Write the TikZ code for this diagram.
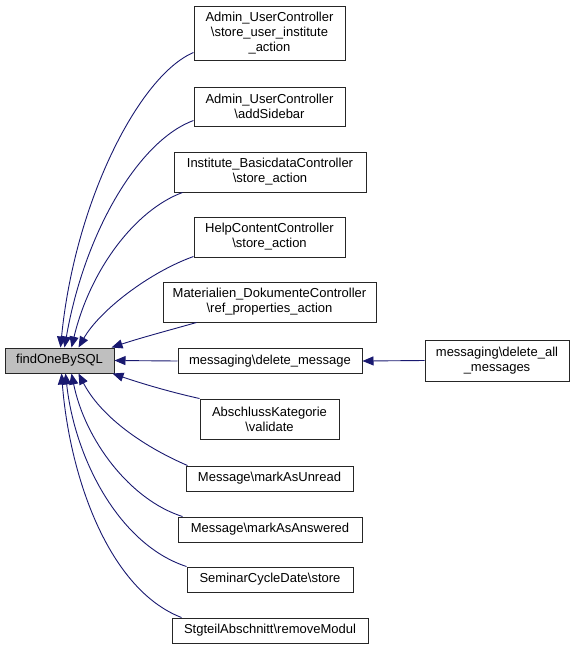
\documentclass[tikz,border=0pt]{standalone}
\usepackage{fontspec}
\setmainfont{Liberation Sans}
\usetikzlibrary{arrows.meta,calc}
\definecolor{edgeblue}{HTML}{191970}
\definecolor{boxgray}{HTML}{BFBFBF}
\newcommand{\bs}{\textbackslash}
\begin{document}
\begin{tikzpicture}[x=1pt,y=-1pt,
  fn/.style={draw=black!85,line width=1pt,rectangle,inner sep=0pt,align=center,
    font=\fontsize{13}{15}\selectfont,fill=white},
  edge/.style={draw=edgeblue,line width=0.9pt,-{Triangle[length=11pt,width=9pt]}}]
\useasboundingbox (0,0) rectangle (575,649);
\node[fn,fill=boxgray,minimum width=109pt,minimum height=25pt] (f) at (59.5,360.5) {findOneBySQL};
\node[fn,minimum width=151pt,minimum height=54pt] (a1) at (269.5,33) {Admin\_UserController\\\bs store\_user\_institute\\\_action};
\node[fn,minimum width=151pt,minimum height=39pt] (a2) at (269.5,106.5) {Admin\_UserController\\\bs addSidebar};
\node[fn,minimum width=192pt,minimum height=40pt] (a3) at (270,172) {Institute\_BasicdataController\\\bs store\_action};
\node[fn,minimum width=151pt,minimum height=40pt] (a4) at (269.5,237) {HelpContentController\\\bs store\_action};
\node[fn,minimum width=213pt,minimum height=40pt] (a5) at (269.5,302) {Materialien\_DokumenteController\\\bs ref\_properties\_action};
\node[fn,minimum width=184pt,minimum height=25pt] (a6) at (270,361) {messaging\bs delete\_message};
\node[fn,minimum width=144pt,minimum height=41pt] (a7) at (497,360.5) {messaging\bs delete\_all\\\_messages};
\node[fn,minimum width=139pt,minimum height=40pt] (a8) at (269.5,419) {AbschlussKategorie\\\bs validate};
\node[fn,minimum width=167pt,minimum height=25pt] (a9) at (269.5,478.5) {Message\bs markAsUnread};
\node[fn,minimum width=184pt,minimum height=25pt] (a10) at (270,529.5) {Message\bs markAsAnswered};
\node[fn,minimum width=166pt,minimum height=25pt] (a11) at (270,579.5) {SeminarCycleDate\bs store};
\node[fn,minimum width=196pt,minimum height=25pt] (a12) at (270,630.5) {StgteilAbschnitt\bs removeModul};
% edges into the top of findOneBySQL
\draw[edge] ($(a1.south west)+(0,-8)$) .. controls (140,75) and (75,200) .. ($(f.north west)+(56,0)$);
\draw[edge] ($(a2.south west)+(0,-6)$) .. controls (140,140) and (85,230) .. ($(f.north west)+(60,0)$);
\draw[edge] ($(a3.south west)+(9,0)$) .. controls (135,210) and (90,270) .. ($(f.north west)+(67,0)$);
\draw[edge] ($(a4.south west)+(0,-1)$) .. controls (150,272) and (100,310) .. ($(f.north west)+(74,0)$);
\draw[edge] ($(a5.south west)+(34,0)$) .. controls (170,330) and (140,338) .. ($(f.north east)+(-3,0)$);
\draw[edge] (a6.west) -- (f.east);
\draw[edge] (a7.west) -- (a6.east);
% edges into the bottom of findOneBySQL
\draw[edge] (a8.north west) .. controls (170,392) and (140,383) .. ($(f.south east)+(-2,0)$);
\draw[edge] ($(a9.north west)+(2,0)$) .. controls (140,445) and (100,415) .. ($(f.south west)+(74,0)$);
\draw[edge] ($(a10.north west)+(5,0)$) .. controls (130,500) and (85,440) .. ($(f.south west)+(67,0)$);
\draw[edge] ($(a11.north west)+(0,0)$) .. controls (120,545) and (75,460) .. ($(f.south west)+(61,0)$);
\draw[edge] ($(a12.north west)+(10,0)$) .. controls (110,590) and (70,480) .. ($(f.south west)+(57,0)$);
\end{tikzpicture}
\end{document}
